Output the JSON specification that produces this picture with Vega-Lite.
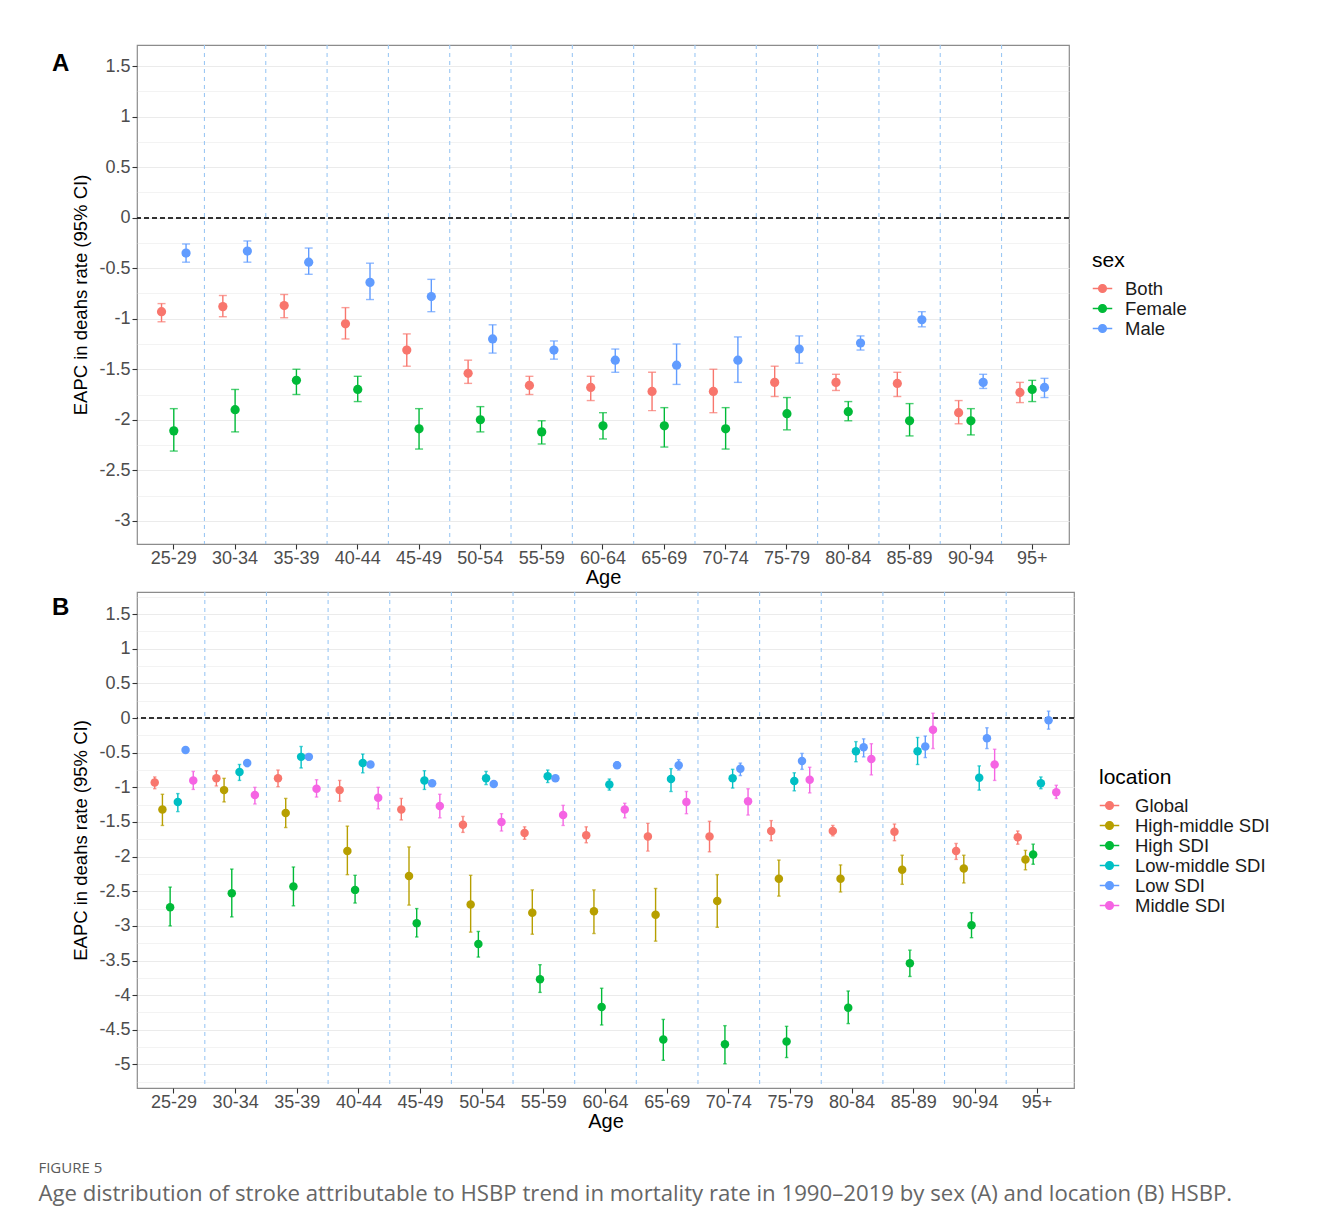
{
  "$schema": "https://vega.github.io/schema/vega-lite/v6.json",
  "padding": {"left": 38, "top": 43, "right": 5, "bottom": 5},
  "background": "white",
  "datasets": {
    "A": [
      {"age": "25-29", "sex": "Both", "eapc": -0.93, "lo": -1.03, "hi": -0.85},
      {"age": "25-29", "sex": "Female", "eapc": -2.11, "lo": -2.31, "hi": -1.89},
      {"age": "25-29", "sex": "Male", "eapc": -0.35, "lo": -0.44, "hi": -0.26},
      {"age": "30-34", "sex": "Both", "eapc": -0.88, "lo": -0.98, "hi": -0.77},
      {"age": "30-34", "sex": "Female", "eapc": -1.90, "lo": -2.12, "hi": -1.70},
      {"age": "30-34", "sex": "Male", "eapc": -0.33, "lo": -0.44, "hi": -0.23},
      {"age": "35-39", "sex": "Both", "eapc": -0.87, "lo": -0.99, "hi": -0.76},
      {"age": "35-39", "sex": "Female", "eapc": -1.61, "lo": -1.75, "hi": -1.50},
      {"age": "35-39", "sex": "Male", "eapc": -0.44, "lo": -0.56, "hi": -0.30},
      {"age": "40-44", "sex": "Both", "eapc": -1.05, "lo": -1.20, "hi": -0.89},
      {"age": "40-44", "sex": "Female", "eapc": -1.70, "lo": -1.82, "hi": -1.57},
      {"age": "40-44", "sex": "Male", "eapc": -0.64, "lo": -0.81, "hi": -0.45},
      {"age": "45-49", "sex": "Both", "eapc": -1.31, "lo": -1.47, "hi": -1.15},
      {"age": "45-49", "sex": "Female", "eapc": -2.09, "lo": -2.29, "hi": -1.89},
      {"age": "45-49", "sex": "Male", "eapc": -0.78, "lo": -0.93, "hi": -0.61},
      {"age": "50-54", "sex": "Both", "eapc": -1.54, "lo": -1.64, "hi": -1.41},
      {"age": "50-54", "sex": "Female", "eapc": -2.00, "lo": -2.12, "hi": -1.87},
      {"age": "50-54", "sex": "Male", "eapc": -1.20, "lo": -1.34, "hi": -1.06},
      {"age": "55-59", "sex": "Both", "eapc": -1.66, "lo": -1.75, "hi": -1.57},
      {"age": "55-59", "sex": "Female", "eapc": -2.12, "lo": -2.24, "hi": -2.01},
      {"age": "55-59", "sex": "Male", "eapc": -1.31, "lo": -1.40, "hi": -1.22},
      {"age": "60-64", "sex": "Both", "eapc": -1.68, "lo": -1.81, "hi": -1.57},
      {"age": "60-64", "sex": "Female", "eapc": -2.06, "lo": -2.19, "hi": -1.93},
      {"age": "60-64", "sex": "Male", "eapc": -1.41, "lo": -1.53, "hi": -1.30},
      {"age": "65-69", "sex": "Both", "eapc": -1.72, "lo": -1.91, "hi": -1.53},
      {"age": "65-69", "sex": "Female", "eapc": -2.06, "lo": -2.27, "hi": -1.88},
      {"age": "65-69", "sex": "Male", "eapc": -1.46, "lo": -1.65, "hi": -1.25},
      {"age": "70-74", "sex": "Both", "eapc": -1.72, "lo": -1.93, "hi": -1.50},
      {"age": "70-74", "sex": "Female", "eapc": -2.09, "lo": -2.29, "hi": -1.88},
      {"age": "70-74", "sex": "Male", "eapc": -1.41, "lo": -1.63, "hi": -1.18},
      {"age": "75-79", "sex": "Both", "eapc": -1.63, "lo": -1.77, "hi": -1.47},
      {"age": "75-79", "sex": "Female", "eapc": -1.94, "lo": -2.10, "hi": -1.78},
      {"age": "75-79", "sex": "Male", "eapc": -1.30, "lo": -1.44, "hi": -1.17},
      {"age": "80-84", "sex": "Both", "eapc": -1.63, "lo": -1.71, "hi": -1.55},
      {"age": "80-84", "sex": "Female", "eapc": -1.92, "lo": -2.01, "hi": -1.82},
      {"age": "80-84", "sex": "Male", "eapc": -1.24, "lo": -1.31, "hi": -1.17},
      {"age": "85-89", "sex": "Both", "eapc": -1.64, "lo": -1.77, "hi": -1.53},
      {"age": "85-89", "sex": "Female", "eapc": -2.01, "lo": -2.16, "hi": -1.84},
      {"age": "85-89", "sex": "Male", "eapc": -1.01, "lo": -1.08, "hi": -0.93},
      {"age": "90-94", "sex": "Both", "eapc": -1.93, "lo": -2.04, "hi": -1.81},
      {"age": "90-94", "sex": "Female", "eapc": -2.01, "lo": -2.15, "hi": -1.89},
      {"age": "90-94", "sex": "Male", "eapc": -1.63, "lo": -1.69, "hi": -1.55},
      {"age": "95+", "sex": "Both", "eapc": -1.73, "lo": -1.83, "hi": -1.63},
      {"age": "95+", "sex": "Female", "eapc": -1.70, "lo": -1.82, "hi": -1.61},
      {"age": "95+", "sex": "Male", "eapc": -1.68, "lo": -1.78, "hi": -1.59}
    ],
    "B": [
      {"age": "25-29", "location": "Global", "eapc": -0.93, "lo": -1.02, "hi": -0.85},
      {"age": "25-29", "location": "High-middle SDI", "eapc": -1.32, "lo": -1.55, "hi": -1.10},
      {"age": "25-29", "location": "High SDI", "eapc": -2.73, "lo": -3.00, "hi": -2.44},
      {"age": "25-29", "location": "Low-middle SDI", "eapc": -1.21, "lo": -1.35, "hi": -1.09},
      {"age": "25-29", "location": "Low SDI", "eapc": -0.46, "lo": -0.49, "hi": -0.42},
      {"age": "25-29", "location": "Middle SDI", "eapc": -0.90, "lo": -1.03, "hi": -0.77},
      {"age": "30-34", "location": "Global", "eapc": -0.87, "lo": -0.98, "hi": -0.76},
      {"age": "30-34", "location": "High-middle SDI", "eapc": -1.04, "lo": -1.21, "hi": -0.87},
      {"age": "30-34", "location": "High SDI", "eapc": -2.53, "lo": -2.87, "hi": -2.18},
      {"age": "30-34", "location": "Low-middle SDI", "eapc": -0.78, "lo": -0.90, "hi": -0.67},
      {"age": "30-34", "location": "Low SDI", "eapc": -0.65, "lo": -0.70, "hi": -0.61},
      {"age": "30-34", "location": "Middle SDI", "eapc": -1.11, "lo": -1.24, "hi": -1.00},
      {"age": "35-39", "location": "Global", "eapc": -0.87, "lo": -0.99, "hi": -0.75},
      {"age": "35-39", "location": "High-middle SDI", "eapc": -1.37, "lo": -1.58, "hi": -1.16},
      {"age": "35-39", "location": "High SDI", "eapc": -2.43, "lo": -2.71, "hi": -2.15},
      {"age": "35-39", "location": "Low-middle SDI", "eapc": -0.56, "lo": -0.72, "hi": -0.41},
      {"age": "35-39", "location": "Low SDI", "eapc": -0.56, "lo": -0.61, "hi": -0.52},
      {"age": "35-39", "location": "Middle SDI", "eapc": -1.02, "lo": -1.14, "hi": -0.89},
      {"age": "40-44", "location": "Global", "eapc": -1.04, "lo": -1.20, "hi": -0.90},
      {"age": "40-44", "location": "High-middle SDI", "eapc": -1.92, "lo": -2.26, "hi": -1.56},
      {"age": "40-44", "location": "High SDI", "eapc": -2.48, "lo": -2.67, "hi": -2.27},
      {"age": "40-44", "location": "Low-middle SDI", "eapc": -0.65, "lo": -0.79, "hi": -0.52},
      {"age": "40-44", "location": "Low SDI", "eapc": -0.67, "lo": -0.71, "hi": -0.63},
      {"age": "40-44", "location": "Middle SDI", "eapc": -1.15, "lo": -1.31, "hi": -1.00},
      {"age": "45-49", "location": "Global", "eapc": -1.32, "lo": -1.47, "hi": -1.16},
      {"age": "45-49", "location": "High-middle SDI", "eapc": -2.28, "lo": -2.70, "hi": -1.86},
      {"age": "45-49", "location": "High SDI", "eapc": -2.96, "lo": -3.16, "hi": -2.75},
      {"age": "45-49", "location": "Low-middle SDI", "eapc": -0.90, "lo": -1.03, "hi": -0.76},
      {"age": "45-49", "location": "Low SDI", "eapc": -0.94, "lo": -0.97, "hi": -0.91},
      {"age": "45-49", "location": "Middle SDI", "eapc": -1.27, "lo": -1.44, "hi": -1.10},
      {"age": "50-54", "location": "Global", "eapc": -1.54, "lo": -1.65, "hi": -1.42},
      {"age": "50-54", "location": "High-middle SDI", "eapc": -2.69, "lo": -3.09, "hi": -2.27},
      {"age": "50-54", "location": "High SDI", "eapc": -3.26, "lo": -3.45, "hi": -3.08},
      {"age": "50-54", "location": "Low-middle SDI", "eapc": -0.87, "lo": -0.96, "hi": -0.77},
      {"age": "50-54", "location": "Low SDI", "eapc": -0.95, "lo": -0.98, "hi": -0.91},
      {"age": "50-54", "location": "Middle SDI", "eapc": -1.50, "lo": -1.63, "hi": -1.38},
      {"age": "55-59", "location": "Global", "eapc": -1.66, "lo": -1.75, "hi": -1.57},
      {"age": "55-59", "location": "High-middle SDI", "eapc": -2.81, "lo": -3.12, "hi": -2.48},
      {"age": "55-59", "location": "High SDI", "eapc": -3.77, "lo": -3.96, "hi": -3.56},
      {"age": "55-59", "location": "Low-middle SDI", "eapc": -0.84, "lo": -0.93, "hi": -0.75},
      {"age": "55-59", "location": "Low SDI", "eapc": -0.87, "lo": -0.91, "hi": -0.84},
      {"age": "55-59", "location": "Middle SDI", "eapc": -1.40, "lo": -1.55, "hi": -1.26},
      {"age": "60-64", "location": "Global", "eapc": -1.69, "lo": -1.80, "hi": -1.57},
      {"age": "60-64", "location": "High-middle SDI", "eapc": -2.79, "lo": -3.11, "hi": -2.48},
      {"age": "60-64", "location": "High SDI", "eapc": -4.17, "lo": -4.43, "hi": -3.90},
      {"age": "60-64", "location": "Low-middle SDI", "eapc": -0.96, "lo": -1.04, "hi": -0.88},
      {"age": "60-64", "location": "Low SDI", "eapc": -0.68, "lo": -0.72, "hi": -0.63},
      {"age": "60-64", "location": "Middle SDI", "eapc": -1.32, "lo": -1.44, "hi": -1.23},
      {"age": "65-69", "location": "Global", "eapc": -1.71, "lo": -1.92, "hi": -1.52},
      {"age": "65-69", "location": "High-middle SDI", "eapc": -2.84, "lo": -3.22, "hi": -2.46},
      {"age": "65-69", "location": "High SDI", "eapc": -4.64, "lo": -4.94, "hi": -4.35},
      {"age": "65-69", "location": "Low-middle SDI", "eapc": -0.88, "lo": -1.06, "hi": -0.73},
      {"age": "65-69", "location": "Low SDI", "eapc": -0.68, "lo": -0.75, "hi": -0.60},
      {"age": "65-69", "location": "Middle SDI", "eapc": -1.21, "lo": -1.38, "hi": -1.06},
      {"age": "70-74", "location": "Global", "eapc": -1.71, "lo": -1.93, "hi": -1.49},
      {"age": "70-74", "location": "High-middle SDI", "eapc": -2.64, "lo": -3.02, "hi": -2.26},
      {"age": "70-74", "location": "High SDI", "eapc": -4.71, "lo": -4.99, "hi": -4.44},
      {"age": "70-74", "location": "Low-middle SDI", "eapc": -0.87, "lo": -1.01, "hi": -0.74},
      {"age": "70-74", "location": "Low SDI", "eapc": -0.73, "lo": -0.83, "hi": -0.65},
      {"age": "70-74", "location": "Middle SDI", "eapc": -1.20, "lo": -1.40, "hi": -1.02},
      {"age": "75-79", "location": "Global", "eapc": -1.63, "lo": -1.77, "hi": -1.48},
      {"age": "75-79", "location": "High-middle SDI", "eapc": -2.32, "lo": -2.57, "hi": -2.05},
      {"age": "75-79", "location": "High SDI", "eapc": -4.67, "lo": -4.90, "hi": -4.45},
      {"age": "75-79", "location": "Low-middle SDI", "eapc": -0.91, "lo": -1.05, "hi": -0.79},
      {"age": "75-79", "location": "Low SDI", "eapc": -0.62, "lo": -0.74, "hi": -0.51},
      {"age": "75-79", "location": "Middle SDI", "eapc": -0.89, "lo": -1.08, "hi": -0.71},
      {"age": "80-84", "location": "Global", "eapc": -1.63, "lo": -1.70, "hi": -1.55},
      {"age": "80-84", "location": "High-middle SDI", "eapc": -2.32, "lo": -2.51, "hi": -2.12},
      {"age": "80-84", "location": "High SDI", "eapc": -4.18, "lo": -4.41, "hi": -3.94},
      {"age": "80-84", "location": "Low-middle SDI", "eapc": -0.48, "lo": -0.63, "hi": -0.34},
      {"age": "80-84", "location": "Low SDI", "eapc": -0.42, "lo": -0.56, "hi": -0.30},
      {"age": "80-84", "location": "Middle SDI", "eapc": -0.59, "lo": -0.82, "hi": -0.37},
      {"age": "85-89", "location": "Global", "eapc": -1.64, "lo": -1.77, "hi": -1.53},
      {"age": "85-89", "location": "High-middle SDI", "eapc": -2.19, "lo": -2.40, "hi": -1.98},
      {"age": "85-89", "location": "High SDI", "eapc": -3.54, "lo": -3.73, "hi": -3.35},
      {"age": "85-89", "location": "Low-middle SDI", "eapc": -0.48, "lo": -0.67, "hi": -0.28},
      {"age": "85-89", "location": "Low SDI", "eapc": -0.41, "lo": -0.57, "hi": -0.26},
      {"age": "85-89", "location": "Middle SDI", "eapc": -0.17, "lo": -0.44, "hi": 0.07},
      {"age": "90-94", "location": "Global", "eapc": -1.92, "lo": -2.04, "hi": -1.81},
      {"age": "90-94", "location": "High-middle SDI", "eapc": -2.17, "lo": -2.38, "hi": -1.98},
      {"age": "90-94", "location": "High SDI", "eapc": -2.99, "lo": -3.17, "hi": -2.81},
      {"age": "90-94", "location": "Low-middle SDI", "eapc": -0.86, "lo": -1.04, "hi": -0.69},
      {"age": "90-94", "location": "Low SDI", "eapc": -0.29, "lo": -0.44, "hi": -0.14},
      {"age": "90-94", "location": "Middle SDI", "eapc": -0.67, "lo": -0.90, "hi": -0.45},
      {"age": "95+", "location": "Global", "eapc": -1.72, "lo": -1.82, "hi": -1.63},
      {"age": "95+", "location": "High-middle SDI", "eapc": -2.04, "lo": -2.19, "hi": -1.91},
      {"age": "95+", "location": "High SDI", "eapc": -1.97, "lo": -2.11, "hi": -1.82},
      {"age": "95+", "location": "Low-middle SDI", "eapc": -0.94, "lo": -1.02, "hi": -0.85},
      {"age": "95+", "location": "Low SDI", "eapc": -0.03, "lo": -0.16, "hi": 0.10},
      {"age": "95+", "location": "Middle SDI", "eapc": -1.07, "lo": -1.16, "hi": -0.97}
    ]
  },
  "title": {
    "text": "FIGURE 5",
    "subtitle": "Age distribution of stroke attributable to HSBP trend in mortality rate in 1990–2019 by sex (A) and location (B) HSBP.",
    "orient": "bottom",
    "anchor": "start",
    "dx": -13,
    "offset": 29,
    "font": "Open Sans",
    "fontSize": 15,
    "fontWeight": "normal",
    "color": "#5a5a5a",
    "subtitleFont": "Open Sans",
    "subtitleFontSize": 22.2,
    "subtitleColor": "#666666",
    "subtitlePadding": 7
  },
  "spacing": 48,
  "bounds": "flush",
  "resolve": {"scale": {"color": "independent", "x": "independent", "y": "independent", "xOffset": "independent"}},
  "vconcat": [
    {
      "width": 932,
      "height": 499,
      "title": {"text": "A", "anchor": "start", "frame": "group", "dx": -85, "dy": 36, "font": "Liberation Sans", "fontSize": 24, "fontWeight": "bold", "color": "#000000"},
      "data": {"name": "A"},
      "layer": [
        {
          "transform": [{"filter": "datum.sex === 'Both' && datum.age !== '25-29'"}],
          "mark": {"type": "rule", "color": "#9CC8F4", "strokeDash": [4, 4], "strokeWidth": 1.1},
          "encoding": {
            "x": {"field": "age", "type": "nominal", "bandPosition": 0, "title": "Age",
              "scale": {"type": "band", "domain": ["25-29","30-34","35-39","40-44","45-49","50-54","55-59","60-64","65-69","70-74","75-79","80-84","85-89","90-94","95+"], "paddingInner": 0, "paddingOuter": 0.1},
              "axis": {"labelAngle": 0, "grid": false, "labelOverlap": false, "labelPadding": 0, "titlePadding": 0}}
          }
        },
        {
          "mark": {"type": "rule", "color": "#333333", "strokeDash": [5, 3], "strokeWidth": 1.2},
          "encoding": {"y": {"datum": 0, "type": "quantitative", "title": "EAPC in deahs rate (95% CI)"}}
        },
        {
          "mark": {"type": "rule", "strokeWidth": 1.4},
          "encoding": {
            "x": {"field": "age", "type": "nominal", "title": "Age"},
            "xOffset": {"field": "sex", "type": "nominal", "scale": {"type": "band", "domain": ["Both", "Female", "Male"], "paddingInner": 0, "paddingOuter": 1}},
            "y": {"field": "lo", "type": "quantitative", "title": "EAPC in deahs rate (95% CI)"},
            "y2": {"field": "hi"},
            "color": {"field": "sex", "type": "nominal"}
          }
        },
        {
          "mark": {"type": "tick", "orient": "horizontal", "size": 8, "thickness": 1.4},
          "encoding": {
            "x": {"field": "age", "type": "nominal", "title": "Age"},
            "xOffset": {"field": "sex", "type": "nominal"},
            "y": {"field": "lo", "type": "quantitative", "title": "EAPC in deahs rate (95% CI)"},
            "color": {"field": "sex", "type": "nominal"}
          }
        },
        {
          "mark": {"type": "tick", "orient": "horizontal", "size": 8, "thickness": 1.4},
          "encoding": {
            "x": {"field": "age", "type": "nominal", "title": "Age"},
            "xOffset": {"field": "sex", "type": "nominal"},
            "y": {"field": "hi", "type": "quantitative", "title": "EAPC in deahs rate (95% CI)"},
            "color": {"field": "sex", "type": "nominal"}
          }
        },
        {
          "mark": {"type": "point", "filled": true, "size": 85, "opacity": 1},
          "encoding": {
            "x": {"field": "age", "type": "nominal", "title": "Age"},
            "xOffset": {"field": "sex", "type": "nominal"},
            "y": {"field": "eapc", "type": "quantitative", "title": "EAPC in deahs rate (95% CI)",
              "scale": {"domain": [-3.23, 1.71], "nice": false, "zero": false},
              "axis": {
                "values": [-3, -2.75, -2.5, -2.25, -2, -1.75, -1.5, -1.25, -1, -0.75, -0.5, -0.25, 0, 0.25, 0.5, 0.75, 1, 1.25, 1.5],
                "tickCount": 200,
                "grid": true,
                "labelOverlap": false,
                "labelExpr": "datum.value % 0.5 === 0 ? '' + datum.value : ''",
                "tickOpacity": {"condition": {"test": "datum.value % 0.5 !== 0", "value": 0}, "value": 1},
                "gridWidth": {"condition": {"test": "datum.value % 0.5 !== 0", "value": 0.6}, "value": 1.1},
                "titleFontSize": 18.5,
                "titlePadding": 8
              }
            },
            "color": {"field": "sex", "type": "nominal",
              "scale": {"domain": ["Both", "Female", "Male"], "range": ["#F8766D", "#00BA38", "#619CFF"]},
              "legend": {
                "orient": "none", "legendX": 955, "legendY": 205,
                "title": "sex", "titleFont": "Liberation Sans", "titleFontSize": 21, "titleFontWeight": "normal", "titleColor": "#000000", "titlePadding": 7,
                "labelFont": "Liberation Sans", "labelFontSize": 18.5, "labelColor": "#1a1a1a", "labelOffset": 12,
                "symbolType": "M-1,0H1M-0.4,0A0.4,0.4,0,1,0,0.4,0A0.4,0.4,0,1,0,-0.4,0",
                "symbolSize": 380, "symbolStrokeWidth": 1.3, "symbolOpacity": 1, "rowPadding": 0,
                "encode": {"symbols": {"update": {"stroke": {"signal": "datum.value === 'Both' ? '#F8766D' : datum.value === 'Female' ? '#00BA38' : '#619CFF'"}}}}
              }
            }
          }
        }
      ]
    },
    {
      "width": 937,
      "height": 496,
      "title": {"text": "B", "anchor": "start", "frame": "group", "dx": -85, "dy": 36, "font": "Liberation Sans", "fontSize": 24, "fontWeight": "bold", "color": "#000000"},
      "data": {"name": "B"},
      "layer": [
        {
          "transform": [{"filter": "datum.location === 'Global' && datum.age !== '25-29'"}],
          "mark": {"type": "rule", "color": "#9CC8F4", "strokeDash": [4, 4], "strokeWidth": 1.1},
          "encoding": {
            "x": {"field": "age", "type": "nominal", "bandPosition": 0, "title": "Age",
              "scale": {"type": "band", "domain": ["25-29","30-34","35-39","40-44","45-49","50-54","55-59","60-64","65-69","70-74","75-79","80-84","85-89","90-94","95+"], "paddingInner": 0, "paddingOuter": 0.1},
              "axis": {"labelAngle": 0, "grid": false, "labelOverlap": false, "labelPadding": 0, "titlePadding": 0}}
          }
        },
        {
          "mark": {"type": "rule", "color": "#333333", "strokeDash": [5, 3], "strokeWidth": 1.2},
          "encoding": {"y": {"datum": 0, "type": "quantitative", "title": "EAPC in deahs rate (95% CI)"}}
        },
        {
          "mark": {"type": "rule", "strokeWidth": 1.4},
          "encoding": {
            "x": {"field": "age", "type": "nominal", "title": "Age"},
            "xOffset": {"field": "location", "type": "nominal", "scale": {"type": "band", "domain": ["Global", "High-middle SDI", "High SDI", "Low-middle SDI", "Low SDI", "Middle SDI"], "paddingInner": 0, "paddingOuter": 2}},
            "y": {"field": "lo", "type": "quantitative", "title": "EAPC in deahs rate (95% CI)"},
            "y2": {"field": "hi"},
            "color": {"field": "location", "type": "nominal"}
          }
        },
        {
          "mark": {"type": "tick", "orient": "horizontal", "size": 3.5, "thickness": 1.4},
          "encoding": {
            "x": {"field": "age", "type": "nominal", "title": "Age"},
            "xOffset": {"field": "location", "type": "nominal"},
            "y": {"field": "lo", "type": "quantitative", "title": "EAPC in deahs rate (95% CI)"},
            "color": {"field": "location", "type": "nominal"}
          }
        },
        {
          "mark": {"type": "tick", "orient": "horizontal", "size": 3.5, "thickness": 1.4},
          "encoding": {
            "x": {"field": "age", "type": "nominal", "title": "Age"},
            "xOffset": {"field": "location", "type": "nominal"},
            "y": {"field": "hi", "type": "quantitative", "title": "EAPC in deahs rate (95% CI)"},
            "color": {"field": "location", "type": "nominal"}
          }
        },
        {
          "mark": {"type": "point", "filled": true, "size": 72, "opacity": 1},
          "encoding": {
            "x": {"field": "age", "type": "nominal", "title": "Age"},
            "xOffset": {"field": "location", "type": "nominal"},
            "y": {"field": "eapc", "type": "quantitative", "title": "EAPC in deahs rate (95% CI)",
              "scale": {"domain": [-5.34, 1.82], "nice": false, "zero": false},
              "axis": {
                "values": [-5.25, -5, -4.75, -4.5, -4.25, -4, -3.75, -3.5, -3.25, -3, -2.75, -2.5, -2.25, -2, -1.75, -1.5, -1.25, -1, -0.75, -0.5, -0.25, 0, 0.25, 0.5, 0.75, 1, 1.25, 1.5, 1.75],
                "tickCount": 200,
                "grid": true,
                "labelOverlap": false,
                "labelExpr": "datum.value % 0.5 === 0 ? '' + datum.value : ''",
                "tickOpacity": {"condition": {"test": "datum.value % 0.5 !== 0", "value": 0}, "value": 1},
                "gridWidth": {"condition": {"test": "datum.value % 0.5 !== 0", "value": 0.6}, "value": 1.1},
                "titleFontSize": 18.5,
                "titlePadding": 8
              }
            },
            "color": {"field": "location", "type": "nominal",
              "scale": {"domain": ["Global", "High-middle SDI", "High SDI", "Low-middle SDI", "Low SDI", "Middle SDI"], "range": ["#F8766D", "#B79F00", "#00BA38", "#00BFC4", "#619CFF", "#F564E3"]},
              "legend": {
                "orient": "none", "legendX": 962, "legendY": 175,
                "title": "location", "titleFont": "Liberation Sans", "titleFontSize": 21, "titleFontWeight": "normal", "titleColor": "#000000", "titlePadding": 7,
                "labelFont": "Liberation Sans", "labelFontSize": 18.5, "labelColor": "#1a1a1a", "labelOffset": 15,
                "symbolType": "M-1,0H1M-0.4,0A0.4,0.4,0,1,0,0.4,0A0.4,0.4,0,1,0,-0.4,0",
                "symbolSize": 380, "symbolStrokeWidth": 1.3, "symbolOpacity": 1, "rowPadding": 0,
                "encode": {"symbols": {"update": {"stroke": {"signal": "datum.value === 'Global' ? '#F8766D' : datum.value === 'High-middle SDI' ? '#B79F00' : datum.value === 'High SDI' ? '#00BA38' : datum.value === 'Low-middle SDI' ? '#00BFC4' : datum.value === 'Low SDI' ? '#619CFF' : '#F564E3'"}}}}
              }
            }
          }
        }
      ]
    }
  ],
  "config": {
    "view": {"stroke": "#8c8c8c", "strokeWidth": 1.2},
    "axis": {
      "domain": false,
      "labelFont": "Liberation Sans",
      "labelFontSize": 18,
      "labelColor": "#4D4D4D",
      "labelPadding": 2,
      "tickColor": "#333333",
      "tickSize": 5,
      "tickWidth": 1.1,
      "titleFont": "Liberation Sans",
      "titleFontSize": 20,
      "titleFontWeight": "normal",
      "titleColor": "#000000",
      "gridColor": "#EBEBEB"
    }
  }
}
